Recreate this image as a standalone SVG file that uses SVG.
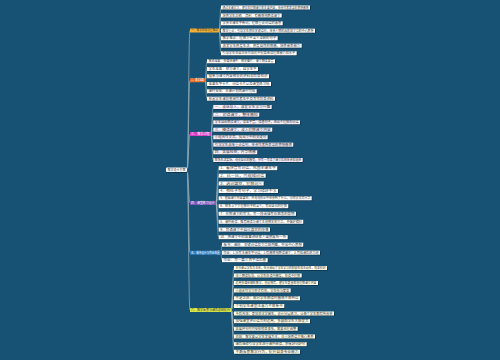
<svg xmlns="http://www.w3.org/2000/svg" width="500" height="360" viewBox="0 0 500 360">
<style>
.bg{fill:#175275}
.sh{fill:#0b2c40}
.lf{fill:#ffffff}
.lf3{fill:#f6f0fc}
.lf6{fill:#fdfdea}
.t{font-family:"Noto Sans CJK SC","Noto Sans",sans-serif;font-size:3px;fill:#3a3a3a;dominant-baseline:central}
.tw{fill:#ffffff}
.tb{font-size:3px}
.trunk{fill:none;stroke:#8fa9b1;stroke-width:0.8}
.ln{fill:none;stroke:#a9bcc3;stroke-width:0.5}
</style>
<rect class="bg" x="0" y="0" width="500" height="360"/>
<g id="connectors">
<path class="trunk" d="M187,170 C188.5,170 188.5,30.4 190,30.4"/>
<path class="trunk" d="M187,170 C188.5,170 188.5,80.3 190,80.3"/>
<path class="trunk" d="M187,170 C188.5,170 188.5,134 190,134"/>
<path class="trunk" d="M187,170 C188.5,170 188.5,203 190,203"/>
<path class="trunk" d="M187,170 C188.5,170 188.5,252.7 190,252.7"/>
<path class="trunk" d="M187,170 C188.5,170 188.5,310 190,310"/>
<path class="ln" d="M219,30.4 C220,30.4 220,7.5 221,7.5 M219,30.4 C220,30.4 220,15.5 221,15.5 M219,30.4 C220,30.4 220,23.3 221,23.3 M219,30.4 C220,30.4 220,30.7 221,30.7 M219,30.4 C220,30.4 220,38.3 221,38.3 M219,30.4 C220,30.4 220,45.7 221,45.7 M219,30.4 C220,30.4 220,53.3 221,53.3"/>
<path class="ln" d="M205,80.3 C206,80.3 206,61.3 207,61.3 M205,80.3 C206,80.3 206,69 207,69 M205,80.3 C206,80.3 206,76.3 207,76.3 M205,80.3 C206,80.3 206,84 207,84 M205,80.3 C206,80.3 206,91.3 207,91.3 M205,80.3 C206,80.3 206,98.7 207,98.7"/>
<path class="ln" d="M210.7,134 C212,134 212,107 213.3,107 M210.7,134 C212,134 212,114.7 213.3,114.7 M210.7,134 C212,134 212,122.3 213.3,122.3 M210.7,134 C212,134 212,129.7 213.3,129.7 M210.7,134 C212,134 212,137.3 213.3,137.3 M210.7,134 C212,134 212,144.7 213.3,144.7 M210.7,134 C212,134 212,152.3 213.3,152.3 M210.7,134 C212,134 212,160 213.3,160"/>
<path class="ln" d="M215.7,203 C217.2,203 217.2,168.2 218.7,168.2 M215.7,203 C217.2,203 217.2,175.7 218.7,175.7 M215.7,203 C217.2,203 217.2,183.5 218.7,183.5 M215.7,203 C217.2,203 217.2,191 218.7,191 M215.7,203 C217.2,203 217.2,198.3 218.7,198.3 M215.7,203 C217.2,203 217.2,206.2 218.7,206.2 M215.7,203 C217.2,203 217.2,213.8 218.7,213.8 M215.7,203 C217.2,203 217.2,221.8 218.7,221.8 M215.7,203 C217.2,203 217.2,229.6 218.7,229.6 M215.7,203 C217.2,203 217.2,237.2 218.7,237.2"/>
<path class="ln" d="M220.7,252.7 C221.4,252.7 221.4,244.7 222,244.7 M220.7,252.7 C221.4,252.7 221.4,252.7 222,252.7 M220.7,252.7 C221.4,252.7 221.4,260.2 222,260.2"/>
<path class="ln" d="M231,310 C232.5,310 232.5,268 234,268 M231,310 C232.5,310 232.5,275.5 234,275.5 M231,310 C232.5,310 232.5,283 234,283 M231,310 C232.5,310 232.5,290.5 234,290.5 M231,310 C232.5,310 232.5,298.3 234,298.3 M231,310 C232.5,310 232.5,306 234,306 M231,310 C232.5,310 232.5,313.5 234,313.5 M231,310 C232.5,310 232.5,321.2 234,321.2 M231,310 C232.5,310 232.5,328.8 234,328.8 M231,310 C232.5,310 232.5,336.5 234,336.5 M231,310 C232.5,310 232.5,344.2 234,344.2 M231,310 C232.5,310 232.5,351.8 234,351.8"/>
</g>
<g id="root"><rect class="sh" x="166.6" y="168.1" width="21" height="4.6" rx="1"/><rect class="lf" x="166" y="167.5" width="21" height="4.6" rx="1"/><text class="t" x="167.5" y="169.8" textLength="18" lengthAdjust="spacingAndGlyphs">教学设计方案</text></g>
<g id="b1"><rect x="190" y="28.4" width="29" height="4" rx="0.6" fill="#f2b134"/><text class="t" x="191.2" y="30.4" textLength="26.6" lengthAdjust="spacingAndGlyphs">一、教学目标与重难点</text></g>
<g id="b2"><rect x="190" y="78.3" width="15" height="4" rx="0.6" fill="#e8702a"/><text class="t tw" x="191" y="80.3" textLength="13" lengthAdjust="spacingAndGlyphs">二、教学准备</text></g>
<g id="b3"><rect x="190" y="132" width="20.7" height="4" rx="0.6" fill="#d63ec4"/><text class="t tw" x="191" y="134" textLength="18.7" lengthAdjust="spacingAndGlyphs">三、教学过程</text></g>
<g id="b4"><rect x="190" y="201" width="25.7" height="4" rx="0.6" fill="#7a55b8"/><text class="t tw" x="191" y="203" textLength="23.7" lengthAdjust="spacingAndGlyphs">四、课堂练习设计</text></g>
<g id="b5"><rect x="190" y="250.7" width="30.7" height="4" rx="0.6" fill="#2f7fc4"/><text class="t tw" x="191" y="252.7" textLength="28.7" lengthAdjust="spacingAndGlyphs">五、板书设计与作业布置</text></g>
<g id="b6"><rect x="190" y="308" width="41" height="4" rx="0.6" fill="#d9e84a"/><text class="t" x="191" y="310" textLength="39" lengthAdjust="spacingAndGlyphs">六、教学反思与课后总结提升</text></g>

<g id="l1-1"><rect class="sh" x="221.6" y="6.1" width="89" height="4"/><rect class="lf" x="221" y="5.5" width="89" height="4"/><text class="t" x="222.5" y="7.5" textLength="86" lengthAdjust="spacingAndGlyphs">通过本课学习，使学生理解课文的主要内容，体会作者表达的思想感情</text></g>
<g id="l1-2"><rect class="sh" x="221.6" y="14.1" width="60.7" height="4"/><rect class="lf" x="221" y="13.5" width="60.7" height="4"/><text class="t" x="222.5" y="15.5" textLength="57.7" lengthAdjust="spacingAndGlyphs">培养学生正确、流利、有感情地朗读课文</text></g>
<g id="l1-3"><rect class="sh" x="221.6" y="21.9" width="61.7" height="4"/><rect class="lf" x="221" y="21.3" width="61.7" height="4"/><text class="t" x="222.5" y="23.3" textLength="58.7" lengthAdjust="spacingAndGlyphs">学会本课生字新词，理解重点词语的意思</text></g>
<g id="l1-4"><rect class="sh" x="221.6" y="29.3" width="94" height="4"/><rect class="lf" x="221" y="28.7" width="94" height="4"/><text class="t" x="222.5" y="30.7" textLength="91" lengthAdjust="spacingAndGlyphs">教学重点：引导学生抓住关键语句，体会人物的品质和文章的中心思想</text></g>
<g id="l1-5"><rect class="sh" x="221.6" y="36.9" width="56.7" height="4"/><rect class="lf" x="221" y="36.3" width="56.7" height="4"/><text class="t" x="222.5" y="38.3" textLength="53.7" lengthAdjust="spacingAndGlyphs">教学难点：理解文中含义深刻的句子</text></g>
<g id="l1-6"><rect class="sh" x="221.6" y="44.3" width="80.7" height="4"/><rect class="lf" x="221" y="43.7" width="80.7" height="4"/><text class="t" x="222.5" y="45.7" textLength="77.7" lengthAdjust="spacingAndGlyphs">激发学生热爱生活、热爱自然的情感，培养审美能力</text></g>
<g id="l1-7"><rect class="sh" x="221.6" y="51.9" width="75.7" height="4"/><rect class="lf" x="221" y="51.3" width="75.7" height="4"/><text class="t" x="222.5" y="53.3" textLength="72.7" lengthAdjust="spacingAndGlyphs">引导学生在自主合作探究中提高阅读理解能力和水平</text></g>

<g id="l2-1"><rect class="sh" x="207.6" y="59.9" width="68" height="4"/><rect class="lf" x="207" y="59.3" width="68" height="4"/><text class="t" x="208.5" y="61.3" textLength="65" lengthAdjust="spacingAndGlyphs">教师准备：多媒体课件、相关图片、课文朗读录音</text></g>
<g id="l2-2"><rect class="sh" x="207.6" y="67.6" width="51" height="4"/><rect class="lf" x="207" y="67" width="51" height="4"/><text class="t" x="208.5" y="69" textLength="48" lengthAdjust="spacingAndGlyphs">学生准备：预习课文，自学生字</text></g>
<g id="l2-3"><rect class="sh" x="207.6" y="74.9" width="62" height="4"/><rect class="lf" x="207" y="74.3" width="62" height="4"/><text class="t" x="208.5" y="76.3" textLength="59" lengthAdjust="spacingAndGlyphs">搜集与课文内容相关的资料和背景知识</text></g>
<g id="l2-4"><rect class="sh" x="207.6" y="82.6" width="64" height="4"/><rect class="lf" x="207" y="82" width="64" height="4"/><text class="t" x="208.5" y="84" textLength="61" lengthAdjust="spacingAndGlyphs">准备生字卡片、词语卡片以及课堂练习纸</text></g>
<g id="l2-5"><rect class="sh" x="207.6" y="89.9" width="49.7" height="4"/><rect class="lf" x="207" y="89.3" width="49.7" height="4"/><text class="t" x="208.5" y="91.3" textLength="46.7" lengthAdjust="spacingAndGlyphs">课时安排：本课计划两课时完成</text></g>
<g id="l2-6"><rect class="sh" x="207.6" y="97.3" width="68" height="4"/><rect class="lf" x="207" y="96.7" width="68" height="4"/><text class="t" x="208.5" y="98.7" textLength="65" lengthAdjust="spacingAndGlyphs">布置学生课前查阅作者生平及写作背景资料</text></g>

<g id="l3-1"><rect class="sh" x="213.9" y="105.6" width="58.4" height="4"/><rect class="lf3" x="213.3" y="105" width="58.4" height="4"/><text class="t" x="214.8" y="107" textLength="55.4" lengthAdjust="spacingAndGlyphs">一、谈话导入，激发学生学习兴趣</text></g>
<g id="l3-2"><rect class="sh" x="213.9" y="113.3" width="46" height="4"/><rect class="lf3" x="213.3" y="112.7" width="46" height="4"/><text class="t" x="214.8" y="114.7" textLength="43" lengthAdjust="spacingAndGlyphs">二、初读课文，整体感知</text></g>
<g id="l3-3"><rect class="sh" x="213.9" y="120.9" width="86.7" height="4"/><rect class="lf3" x="213.3" y="120.3" width="86.7" height="4"/><text class="t" x="214.8" y="122.3" textLength="83.7" lengthAdjust="spacingAndGlyphs">学生自由朗读课文，读准字音，读通句子，画出不理解的词语</text></g>
<g id="l3-4"><rect class="sh" x="213.9" y="128.3" width="59" height="4"/><rect class="lf3" x="213.3" y="127.7" width="59" height="4"/><text class="t" x="214.8" y="129.7" textLength="56" lengthAdjust="spacingAndGlyphs">三、精读课文，深入理解课文内容</text></g>
<g id="l3-5"><rect class="sh" x="213.9" y="135.9" width="54.4" height="4"/><rect class="lf3" x="213.3" y="135.3" width="54.4" height="4"/><text class="t" x="214.8" y="137.3" textLength="51.4" lengthAdjust="spacingAndGlyphs">小组合作交流，找出文中的关键句</text></g>
<g id="l3-6"><rect class="sh" x="213.9" y="143.3" width="80" height="4"/><rect class="lf3" x="213.3" y="142.7" width="80" height="4"/><text class="t" x="214.8" y="144.7" textLength="77" lengthAdjust="spacingAndGlyphs">引导学生品味重点语句，体会作者所表达的思想感情</text></g>
<g id="l3-7"><rect class="sh" x="213.9" y="150.9" width="44" height="4"/><rect class="lf3" x="213.3" y="150.3" width="44" height="4"/><text class="t" x="214.8" y="152.3" textLength="41" lengthAdjust="spacingAndGlyphs">四、拓展延伸，升华情感</text></g>
<g id="l3-8"><rect class="sh" x="213.9" y="158.6" width="89.4" height="4"/><rect class="lf3" x="213.3" y="158" width="89.4" height="4"/><text class="t" x="214.8" y="160" textLength="86.4" lengthAdjust="spacingAndGlyphs">联系生活实际，说说自己的感受，并写一写读了课文后的体会和收获</text></g>

<g id="l4-1"><rect class="sh" x="219.3" y="166.8" width="58.6" height="4"/><rect class="lf" x="218.7" y="166.2" width="58.6" height="4"/><text class="t" x="220.2" y="168.2" textLength="55.6" lengthAdjust="spacingAndGlyphs">1、看拼音写词语，巩固本课生字</text></g>
<g id="l4-2"><rect class="sh" x="219.3" y="174.3" width="47" height="4"/><rect class="lf" x="218.7" y="173.7" width="47" height="4"/><text class="t" x="220.2" y="175.7" textLength="44" lengthAdjust="spacingAndGlyphs">2、比一比，再组成词语</text></g>
<g id="l4-3"><rect class="sh" x="219.3" y="182.1" width="45" height="4"/><rect class="lf" x="218.7" y="181.5" width="45" height="4"/><text class="t" x="220.2" y="183.5" textLength="42" lengthAdjust="spacingAndGlyphs">3、选词填空，理解词义</text></g>
<g id="l4-4"><rect class="sh" x="219.3" y="189.6" width="59.3" height="4"/><rect class="lf" x="218.7" y="189" width="59.3" height="4"/><text class="t" x="220.2" y="191" textLength="56.3" lengthAdjust="spacingAndGlyphs">4、照样子写句子，学习修辞手法</text></g>
<g id="l4-5"><rect class="sh" x="219.3" y="196.9" width="93" height="4"/><rect class="lf" x="218.7" y="196.3" width="93" height="4"/><text class="t" x="220.2" y="198.3" textLength="90" lengthAdjust="spacingAndGlyphs">5、根据课文内容填空，并说说你从中体会到了什么，与同学交流分享</text></g>
<g id="l4-6"><rect class="sh" x="219.3" y="204.8" width="69.6" height="4"/><rect class="lf" x="218.7" y="204.2" width="69.6" height="4"/><text class="t" x="220.2" y="206.2" textLength="66.6" lengthAdjust="spacingAndGlyphs">6、联系上下文理解句子的含义，写出自己的理解</text></g>
<g id="l4-7"><rect class="sh" x="219.3" y="212.4" width="77.3" height="4"/><rect class="lf" x="218.7" y="211.8" width="77.3" height="4"/><text class="t" x="220.2" y="213.8" textLength="74.3" lengthAdjust="spacingAndGlyphs">7、仿照课文的写法，写一段话描写你熟悉的景物</text></g>
<g id="l4-8"><rect class="sh" x="219.3" y="220.4" width="84.6" height="4"/><rect class="lf" x="218.7" y="219.8" width="84.6" height="4"/><text class="t" x="220.2" y="221.8" textLength="81.6" lengthAdjust="spacingAndGlyphs">8、课外阅读：推荐阅读与课文主题相关的文章，并做好摘抄</text></g>
<g id="l4-9"><rect class="sh" x="219.3" y="228.2" width="51.3" height="4"/><rect class="lf" x="218.7" y="227.6" width="51.3" height="4"/><text class="t" x="220.2" y="229.6" textLength="48.3" lengthAdjust="spacingAndGlyphs">9、背诵课文中自己喜欢的段落</text></g>
<g id="l4-10"><rect class="sh" x="219.3" y="235.8" width="69" height="4"/><rect class="lf" x="218.7" y="235.2" width="69" height="4"/><text class="t" x="220.2" y="237.2" textLength="66" lengthAdjust="spacingAndGlyphs">10、把课文中的故事讲给家人或朋友听一听</text></g>

<g id="l5-1"><rect class="sh" x="222.6" y="243.3" width="81.3" height="4"/><rect class="lf" x="222" y="242.7" width="81.3" height="4"/><text class="t" x="223.5" y="244.7" textLength="78.3" lengthAdjust="spacingAndGlyphs">板书：课题、关键词语及文章结构图，突出中心思想</text></g>
<g id="l5-2"><rect class="sh" x="222.6" y="251.3" width="98" height="4"/><rect class="lf" x="222" y="250.7" width="98" height="4"/><text class="t" x="223.5" y="252.7" textLength="95" lengthAdjust="spacingAndGlyphs">作业：1.抄写本课生字词语；2.有感情地朗读课文；3.完成课后练习题</text></g>
<g id="l5-3"><rect class="sh" x="222.6" y="258.8" width="45.7" height="4"/><rect class="lf" x="222" y="258.2" width="45.7" height="4"/><text class="t" x="223.5" y="260.2" textLength="42.7" lengthAdjust="spacingAndGlyphs">作业：写一篇三百字读后感</text></g>

<g id="l6-1"><rect class="sh" x="234.6" y="266.6" width="93" height="4"/><rect class="lf6" x="234" y="266" width="93" height="4"/><text class="t" x="235.5" y="268" textLength="90" lengthAdjust="spacingAndGlyphs">本节课以学生为主体，充分调动了学生学习的积极性和主动性，效果较好</text></g>
<g id="l6-2"><rect class="sh" x="234.6" y="274.1" width="67.7" height="4"/><rect class="lf6" x="234" y="273.5" width="67.7" height="4"/><text class="t" x="235.5" y="275.5" textLength="64.7" lengthAdjust="spacingAndGlyphs">注重朗读指导，让学生在读中感悟，在读中理解</text></g>
<g id="l6-3"><rect class="sh" x="234.6" y="281.6" width="84" height="4"/><rect class="lf6" x="234" y="281" width="84" height="4"/><text class="t" x="235.5" y="283" textLength="81" lengthAdjust="spacingAndGlyphs">运用多媒体辅助教学，创设情境，使学生更直观地理解课文内容</text></g>
<g id="l6-4"><rect class="sh" x="234.6" y="289.1" width="56.7" height="4"/><rect class="lf6" x="234" y="288.5" width="56.7" height="4"/><text class="t" x="235.5" y="290.5" textLength="53.7" lengthAdjust="spacingAndGlyphs">小组合作学习形式有效，学生参与度高</text></g>
<g id="l6-5"><rect class="sh" x="234.6" y="296.9" width="66" height="4"/><rect class="lf6" x="234" y="296.3" width="66" height="4"/><text class="t" x="235.5" y="298.3" textLength="63" lengthAdjust="spacingAndGlyphs">不足之处：部分学生朗读时感情不够到位</text></g>
<g id="l6-6"><rect class="sh" x="234.6" y="304.6" width="50.3" height="4"/><rect class="lf6" x="234" y="304" width="50.3" height="4"/><text class="t" x="235.5" y="306" textLength="47.3" lengthAdjust="spacingAndGlyphs">个别学生课堂注意力不够集中</text></g>
<g id="l6-7"><rect class="sh" x="234.6" y="312.1" width="100" height="4"/><rect class="lf6" x="234" y="311.5" width="100" height="4"/><text class="t" x="235.5" y="313.5" textLength="97" lengthAdjust="spacingAndGlyphs">今后改进：更加关注学困生，设计分层练习，让每个学生都有所收获</text></g>
<g id="l6-8"><rect class="sh" x="234.6" y="319.8" width="76" height="4"/><rect class="lf6" x="234" y="319.2" width="76" height="4"/><text class="t" x="235.5" y="321.2" textLength="73" lengthAdjust="spacingAndGlyphs">加强课堂评价语言的运用，多鼓励学生大胆发言</text></g>
<g id="l6-9"><rect class="sh" x="234.6" y="327.4" width="63.7" height="4"/><rect class="lf6" x="234" y="326.8" width="63.7" height="4"/><text class="t" x="235.5" y="328.8" textLength="60.7" lengthAdjust="spacingAndGlyphs">拓展环节时间安排稍显紧张，需要合理调整</text></g>
<g id="l6-10"><rect class="sh" x="234.6" y="335.1" width="81" height="4"/><rect class="lf6" x="234" y="334.5" width="81" height="4"/><text class="t" x="235.5" y="336.5" textLength="78" lengthAdjust="spacingAndGlyphs">总结：教学要以学生发展为本，注重培养语文核心素养</text></g>
<g id="l6-11"><rect class="sh" x="234.6" y="342.8" width="72.7" height="4"/><rect class="lf6" x="234" y="342.2" width="72.7" height="4"/><text class="t" x="235.5" y="344.2" textLength="69.7" lengthAdjust="spacingAndGlyphs">课后继续引导学生进行课外阅读，积累好词好句</text></g>
<g id="l6-12"><rect class="sh" x="234.6" y="350.4" width="66" height="4"/><rect class="lf6" x="234" y="349.8" width="66" height="4"/><text class="t" x="235.5" y="351.8" textLength="63" lengthAdjust="spacingAndGlyphs">不断反思教学行为，提升自身专业能力</text></g>
</svg>
